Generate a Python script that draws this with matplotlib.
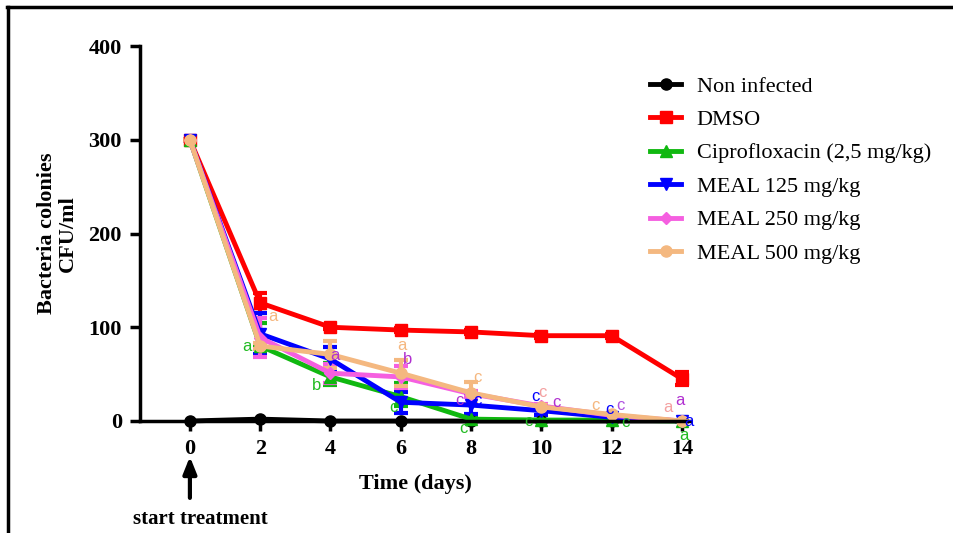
import matplotlib
matplotlib.use('Agg')
import matplotlib.pyplot as plt
from matplotlib.lines import Line2D

days = [0, 2, 4, 6, 8, 10, 12, 14]

non_infected = [0, 2, 0, 0, 0, 0, 0, 0]
dmso = [300, 126, 100, 97, 95, 91, 91, 45]
dmso_err = [0, 11, 2, 2, 2, 2, 2, 7]
cipro = [300, 80, 47, 26, 2, 1, 1, 0]
cipro_err_lo = [0, 0, 9, 10, 2, 0, 0, 0]
cipro_err_hi = [0, 25, 15, 15, 3, 0, 0, 0]
meal125 = [300, 93, 66, 20, 17, 11, 4, 0]
meal125_err = [0, 22, 13, 11, 10, 5, 1, 0]
meal250 = [300, 89, 51, 47, 29, 16, 6, 0]
meal250_err = [0, 21, 10, 12, 3, 2, 1, 0]
meal500 = [300, 80, 71, 51, 30, 15, 7, 0]
meal500_err = [0, 3, 14, 14, 12, 2, 1, 0]

names = ['Non infected', 'DMSO', 'Ciprofloxacin (2,5 mg/kg)', 'MEAL 125 mg/kg',
         'MEAL 250 mg/kg', 'MEAL 500 mg/kg']

# significance letters: (day, value, letter, colour)
letters = [
    (1.62, 79, 'a', '#22bb22'), (2.36, 111, 'a', '#f5b77f'),
    (3.6, 38, 'b', '#22bb22'), (4.13, 70, 'a', '#b030d0'),
    (6.04, 81, 'a', '#f5b77f'), (6.2, 66, 'b', '#b030d0'), (5.78, 14, 'c', '#22bb22'),
    (8.17, 46, 'c', '#f5b77f'), (7.68, 22, 'c', '#b030d0'), (8.17, 22, 'c', '#0000ff'),
    (7.77, -8, 'c', '#22bb22'),
    (9.82, 26, 'c', '#0000ff'), (10.04, 30, 'c', '#f4a0a0'), (10.44, 20, 'c', '#b030d0'),
    (9.62, -1, 'c', '#22bb22'),
    (11.53, 16, 'c', '#f5b77f'), (11.93, 12, 'c', '#0000ff'), (12.24, 17, 'c', '#b050e0'),
    (12.38, -2, 'c', '#22bb22'),
    (13.6, 14, 'a', '#f4a0a0'), (13.95, 22, 'a', '#b030d0'), (14.2, 0, 'a', '#0000ff'),
    (14.06, -16, 'a', '#22bb22'),
]

plt.rcParams['font.family'] = 'Liberation Serif'

fig = plt.figure(figsize=(9.54, 5.33), dpi=100)
ax = fig.add_axes([140/954, 112/533, 550/954, 375/533])

series = [
    (non_infected, None, 'black', 'o'),
    (dmso, dmso_err, '#ff0000', 's'),
    (cipro, [cipro_err_lo, cipro_err_hi], '#10b810', '^'),
    (meal125, meal125_err, '#0000ff', 'v'),
    (meal250, meal250_err, '#f55fe0', 'D'),
    (meal500, meal500_err, '#f4b880', 'o'),
]

handles = []
for (vals, err, col, mk), nm in zip(series, names):
    ms = 8 if mk != 'D' else 6
    ax.errorbar(days, vals, yerr=err, color=col, marker=mk, markersize=ms,
                lw=3.5, elinewidth=3, capsize=5, capthick=3, clip_on=False)
    handles.append(Line2D([], [], color=col, marker=mk, markersize=ms, lw=3.5, label=nm))

for x, y, t, c in letters:
    ax.text(x, y, t, color=c, fontsize=12, family='Liberation Sans', ha='center', va='center')

ax.set_xlim(-1.42, 14.23)
ax.set_ylim(0, 400)
ax.set_xticks(days)
ax.set_yticks([0, 100, 200, 300, 400])
ax.spines['top'].set_visible(False)
ax.spines['right'].set_visible(False)
ax.spines['left'].set_linewidth(2.5)
ax.spines['bottom'].set_linewidth(2.5)
ax.tick_params(width=2.5, length=7, pad=6)
for lb in ax.get_xticklabels() + ax.get_yticklabels():
    lb.set_fontweight('bold')
    lb.set_fontsize(16)
ax.set_xlabel('Time (days)', fontsize=16, fontweight='bold', labelpad=11)
ax.set_ylabel('Bacteria colonies\nCFU/ml', fontsize=16, fontweight='bold', labelpad=8,
              linespacing=1.0)

# start treatment arrow
ax.annotate('', xy=(0, -35), xytext=(0, -85), xycoords='data', textcoords='data',
            arrowprops=dict(arrowstyle='-|>,head_width=0.4,head_length=1.0', color='black', lw=3),
            annotation_clip=False)
fig.text(200/954, 1 - 519/533, 'start treatment', fontsize=15, fontweight='bold',
         ha='center', va='center')

ax.legend(handles=handles, loc='upper left', bbox_to_anchor=(650/954, 1 - 76/533),
          bbox_transform=fig.transFigure, frameon=False, fontsize=16, borderpad=0,
          borderaxespad=0, labelspacing=0.58, handlelength=1.4, handletextpad=0.7)

# frame of the figure
fig.add_artist(Line2D([7/954, 1], [1 - 7/533, 1 - 7/533], color='black', lw=2.5,
                      transform=fig.transFigure))
fig.add_artist(Line2D([8/954, 8/954], [0, 1 - 7/533], color='black', lw=2.5,
                      transform=fig.transFigure))

fig.savefig('out.png', dpi=100)
